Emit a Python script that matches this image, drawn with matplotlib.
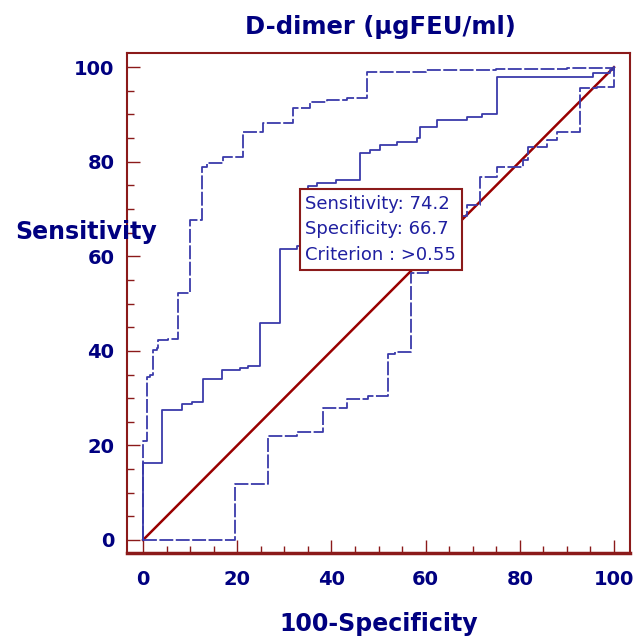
import matplotlib
matplotlib.use("Agg")
import matplotlib.pyplot as plt
from matplotlib.ticker import MultipleLocator

# ROC curve for D-dimer (steps-post vertices)
roc_x = [0, 0, 4.0, 8.3, 10.4, 12.7, 16.8, 20.6, 22.3, 24.8, 29.1, 32.7, 33.3,
         35.0, 37.0, 41.0, 46.1, 48.2, 50.3, 54.0, 58.2, 58.8, 62.4, 68.8, 72.0,
         75.2, 75.2, 95.5, 99.2, 100]
roc_y = [0, 16.3, 27.5, 28.8, 29.2, 34.0, 35.9, 36.4, 36.8, 45.9, 61.5, 62.2, 74.2,
         74.9, 75.5, 76.2, 81.8, 82.4, 83.5, 84.2, 85.0, 87.3, 88.8, 89.4, 90.0,
         90.5, 97.9, 98.7, 99.4, 100]

# upper confidence bound
upper_x = [0, 0, 0.9, 1.5, 2.1, 3.0, 3.2, 5.3, 7.4, 7.4, 10.0, 10.0, 12.5, 12.5,
           13.6, 17.0, 21.2, 21.2, 25.5, 31.8, 31.8, 35.5, 39.0, 43.3, 47.6, 47.6,
           60.0, 75.0, 90.0, 100]
upper_y = [0, 21.0, 34.5, 34.9, 40.2, 40.6, 42.3, 42.5, 42.9, 52.2, 52.4, 67.7, 68.7,
           78.9, 79.7, 81.0, 82.0, 86.3, 88.2, 89.4, 91.3, 92.6, 93.0, 93.4, 93.7,
           98.9, 99.4, 99.6, 99.8, 100]

# lower confidence bound
lower_x = [0, 19.5, 26.5, 32.7, 38.2, 43.3, 47.8, 52.0, 53.5, 56.9, 60.5, 62.5,
           64.5, 66.5, 68.8, 71.5, 75.2, 80.7, 81.7, 85.8, 88.0, 92.8, 96.4, 100, 100]
lower_y = [0, 11.8, 22.0, 22.8, 27.9, 29.8, 30.4, 39.3, 39.7, 56.4, 58.5, 62.0,
           65.5, 68.5, 70.8, 76.7, 78.9, 80.3, 83.1, 84.6, 86.3, 95.6, 95.8, 98.0, 100]

crit_x, crit_y = 33.3, 74.2
info = "Sensitivity: 74.2\nSpecificity: 66.7\nCriterion : >0.55"

NAVY = '#000080'
MAROON = '#8b1a1a'
BLUE = '#3a3aaa'

plt.rcParams['lines.scale_dashes'] = False

fig = plt.figure(figsize=(6.37, 6.42), dpi=100)
ax = fig.add_axes([127 / 637, 89 / 642, 503 / 637, 500 / 642])

ax.plot([0, 100], [0, 100], color='#990000', lw=1.8, zorder=2)
ax.plot(roc_x, roc_y, drawstyle='steps-post', color=BLUE, lw=1.3, zorder=3)
ax.plot(upper_x, upper_y, drawstyle='steps-post', color=BLUE, lw=1.3,
        dashes=(10, 1.8), zorder=3)
ax.plot(lower_x, lower_y, drawstyle='steps-post', color=BLUE, lw=1.3,
        dashes=(10, 1.8), zorder=3)

ax.annotate(info, xy=(crit_x, crit_y), xytext=(4, -4), textcoords='offset points',
            ha='left', va='top', fontsize=13, color='#1f1fa0', linespacing=1.55,
            bbox=dict(boxstyle='square,pad=0.3', fc='white', ec=MAROON, lw=1.5),
            zorder=5)

ax.set_xlim(-3.4, 103.4)
ax.set_ylim(-2.75, 103)

for side in ['left', 'top', 'right']:
    ax.spines[side].set_color(MAROON)
    ax.spines[side].set_linewidth(1.5)
ax.spines['bottom'].set_color(MAROON)
ax.spines['bottom'].set_linewidth(2.5)

ax.xaxis.set_major_locator(MultipleLocator(20))
ax.xaxis.set_minor_locator(MultipleLocator(5))
ax.yaxis.set_major_locator(MultipleLocator(20))
ax.yaxis.set_minor_locator(MultipleLocator(5))
ax.tick_params(which='both', direction='in', color=MAROON, width=1.0,
               top=False, right=False)
ax.tick_params(which='major', length=9.5)
ax.tick_params(which='minor', length=5)
ax.tick_params(axis='x', which='major', pad=12)
ax.tick_params(axis='y', which='major', pad=9)
for lab in ax.get_xticklabels() + ax.get_yticklabels():
    lab.set_fontsize(14)
    lab.set_fontweight('bold')
    lab.set_color(NAVY)

fig.text(380 / 637, 1 - 27 / 642, 'D-dimer (µgFEU/ml)', ha='center', va='center',
         fontsize=17.5, fontweight='bold', color=NAVY)
fig.text(15 / 637, 1 - 232 / 642, 'Sensitivity', ha='left', va='center',
         fontsize=17, fontweight='bold', color=NAVY)
fig.text(379 / 637, 1 - 624 / 642, '100-Specificity', ha='center', va='center',
         fontsize=17, fontweight='bold', color=NAVY)

fig.savefig('out.png', dpi=100, facecolor='white')
